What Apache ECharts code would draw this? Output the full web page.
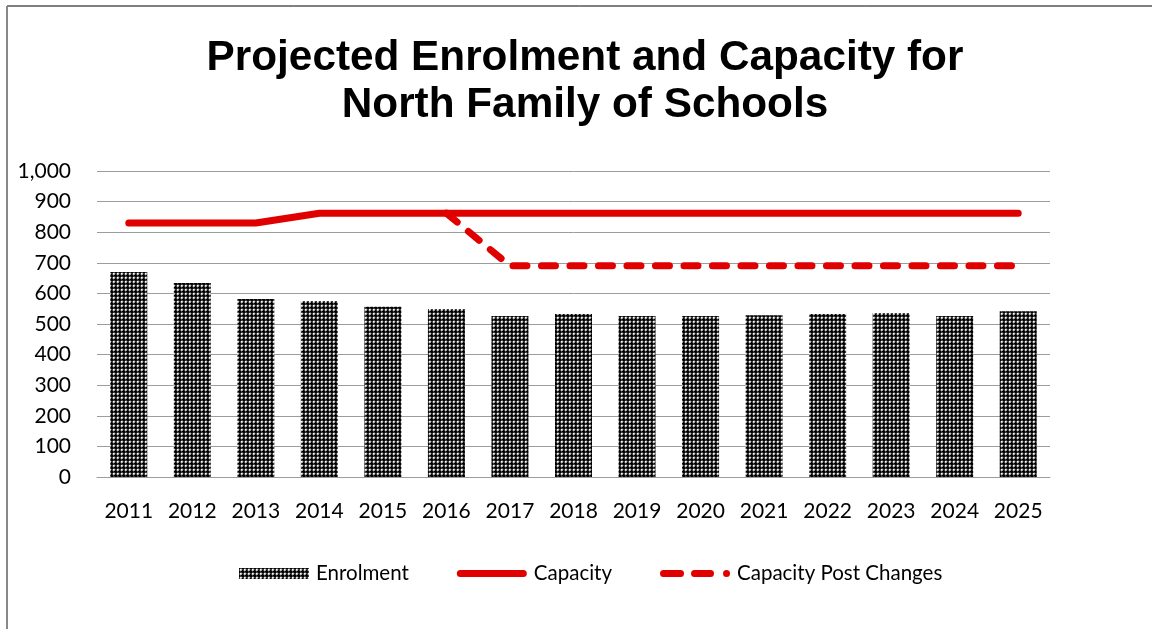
<!DOCTYPE html>
<html>
<head>
<meta charset="utf-8">
<script src="https://cdn.jsdelivr.net/npm/echarts@6/dist/echarts.min.js"></script>
<style>
html,body{margin:0;padding:0;background:#fff;}
#chart{width:1152px;height:629px;}
</style>
</head>
<body>
<div id="chart"></div>
<script>
var years = ['2011','2012','2013','2014','2015','2016','2017','2018','2019','2020','2021','2022','2023','2024','2025'];
var enrolment = [670, 634, 582, 575, 556, 549, 526, 533, 526, 526, 529, 533, 536, 526, 542];
var capacity = [830, 830, 830, 862, 862, 862, 862, 862, 862, 862, 862, 862, 862, 862, 862];
var capacityPost = [null, null, null, null, null, 862, 690, 690, 690, 690, 690, 690, 690, 690, 690];

var tile = document.createElement('canvas');
tile.width = 4; tile.height = 4;
var g = tile.getContext('2d');
g.fillStyle = '#000000'; g.fillRect(0, 0, 4, 4);
g.fillStyle = '#ffffff'; g.fillRect(1, 1, 1, 1);
g.fillStyle = '#c8c8c8'; g.fillRect(2, 1, 1, 1); g.fillRect(1, 2, 1, 1);
g.fillStyle = '#989898'; g.fillRect(2, 2, 1, 1);
g.fillStyle = '#404040'; g.fillRect(0, 1, 1, 1); g.fillRect(1, 0, 1, 1); g.fillRect(3, 1, 1, 1); g.fillRect(1, 3, 1, 1);
g.fillRect(2, 0, 1, 1); g.fillRect(0, 2, 1, 1);

var solidIcon = 'path://M3.5,0 L66.5,0 A3.5,3.5 0 0 1 66.5,7 L3.5,7 A3.5,3.5 0 0 1 3.5,0 Z';
var dashIcon = 'path://M3.5,0 L20.5,0 A3.5,3.5 0 0 1 20.5,7 L3.5,7 A3.5,3.5 0 0 1 3.5,0 Z ' +
  'M34.5,0 L50.5,0 A3.5,3.5 0 0 1 50.5,7 L34.5,7 A3.5,3.5 0 0 1 34.5,0 Z ' +
  'M63,3.5 A3.5,3.5 0 1 1 70,3.5 A3.5,3.5 0 1 1 63,3.5 Z';

var chart = echarts.init(document.getElementById('chart'), null, {renderer: 'canvas'});
var font = 'Lato';
chart.setOption({
  animation: false,
  backgroundColor: '#fff',
  title: {
    text: 'Projected Enrolment and Capacity for\nNorth Family of Schools',
    left: 580, top: 30, textAlign: 'center',
    textStyle: {fontFamily: 'Liberation Sans', fontWeight: 'bold', fontSize: 42.3, lineHeight: 47, color: '#000'}
  },
  grid: {left: 97, right: 102, top: 171, bottom: 152},
  legend: {
    left: 234, top: 558,
    itemWidth: 70, itemHeight: 11, itemGap: 48,
    textStyle: {fontFamily: font, fontSize: 20.5, color: '#000', padding: [0, 0, 0, 2]},
    data: [
      {name: 'Enrolment', icon: 'rect'},
      {name: 'Capacity', icon: solidIcon},
      {name: 'Capacity Post Changes', icon: dashIcon}
    ]
  },
  xAxis: {
    type: 'category', data: years,
    axisTick: {show: false},
    axisLine: {lineStyle: {color: '#9c9c9c', width: 1}},
    axisLabel: {fontFamily: font, fontSize: 21, color: '#000', margin: 24}
  },
  yAxis: {
    type: 'value', min: 0, max: 1000, interval: 100,
    axisLine: {show: false}, axisTick: {show: false},
    splitLine: {lineStyle: {color: '#9c9c9c', width: 1}},
    axisLabel: {fontFamily: font, fontSize: 21, color: '#000', margin: 26,
      formatter: function (v) { return v.toLocaleString('en-US'); }}
  },
  graphic: [
    {type: 'line', shape: {x1: 7, y1: 6, x2: 1152, y2: 6}, style: {stroke: '#000', lineWidth: 1}},
    {type: 'line', shape: {x1: 7, y1: 6, x2: 7, y2: 629}, style: {stroke: '#888', lineWidth: 2}}
  ],
  series: [
    {
      name: 'Enrolment', type: 'bar', data: enrolment, barWidth: 37,
      itemStyle: {color: {image: tile, repeat: 'repeat'}}
    },
    {
      name: 'Capacity', type: 'line', data: capacity,
      symbol: 'none', z: 3,
      lineStyle: {color: '#e00000', width: 7, cap: 'round', join: 'round'},
      itemStyle: {color: '#e00000'}
    },
    {
      name: 'Capacity Post Changes', type: 'line', data: capacityPost,
      symbol: 'none', z: 4,
      lineStyle: {color: '#e00000', width: 7, type: [14, 14.5], cap: 'round', join: 'round'},
      itemStyle: {color: '#e00000'}
    }
  ]
});
</script>
</body>
</html>
